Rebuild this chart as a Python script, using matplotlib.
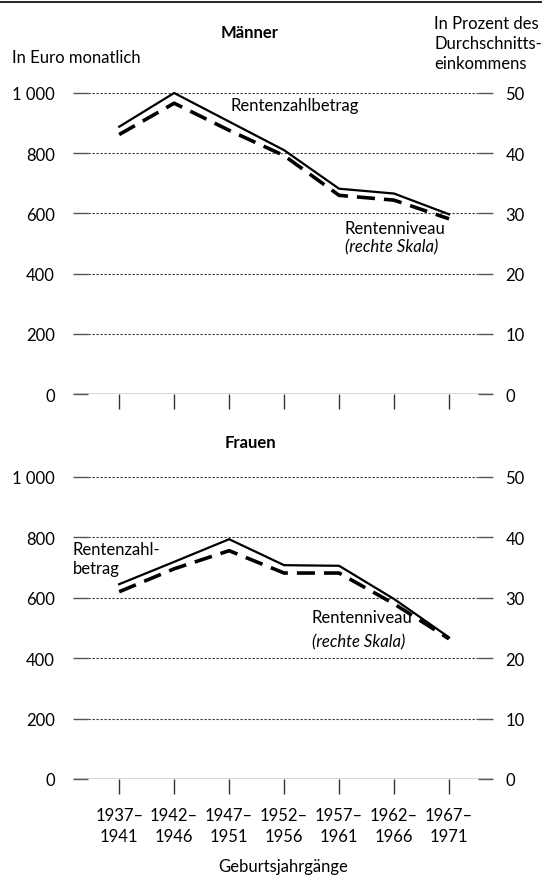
import matplotlib
matplotlib.use("Agg")
import matplotlib.pyplot as plt
from matplotlib.lines import Line2D

plt.rcParams['font.family'] = ['Lato', 'DejaVu Sans']

cohorts = ["1937–\n1941", "1942–\n1946", "1947–\n1951", "1952–\n1956",
           "1957–\n1961", "1962–\n1966", "1967–\n1971"]
euro_ticks = [0, 200, 400, 600, 800, 1000]
euro_labels = ["0", "200", "400", "600", "800", "1 000"]
pct_ticks = [0, 10, 20, 30, 40, 50]

men_zahlbetrag = [888, 1000, 905, 810, 682, 666, 597]
men_niveau = [43.1, 48.3, 43.8, 39.6, 33.0, 32.2, 29.1]
women_zahlbetrag = [645, 719, 794, 708, 706, 596, 469]
women_niveau = [31.0, 34.8, 37.8, 34.1, 34.1, 29.0, 23.2]

W, H = 542, 878
fig = plt.figure(figsize=(W / 100, H / 100), dpi=100)

FS = 12

def make_panel(y_top_px, y_bot_px, zahl, niveau):
    left = 73 / W
    width = (493 - 73) / W
    bottom = 1 - y_bot_px / H
    height = (y_bot_px - y_top_px) / H
    ax = fig.add_axes([left, bottom, width, height])
    ax2 = ax.twinx()
    x = list(range(len(cohorts)))
    for a in (ax, ax2):
        for s in a.spines.values():
            s.set_visible(False)
    ax.set_xlim(-0.84, 6.8)
    ax.set_ylim(0, 1000)
    ax2.set_ylim(0, 50)
    ax.set_yticks(euro_ticks)
    ax.set_yticklabels(euro_labels, fontsize=FS)
    ax2.set_yticks(pct_ticks)
    ax2.set_yticklabels([str(t) for t in pct_ticks], fontsize=FS)
    ax.tick_params(axis='y', direction='in', length=11, width=1.0, color='#555555', pad=13)
    ax2.tick_params(axis='y', direction='in', length=11, width=1.0, color='#555555', pad=9)
    for t in euro_ticks[1:]:
        ax.axhline(t, xmin=0.035, xmax=0.965, color='#333333', lw=0.8,
                   ls=(0, (2, 1.6)), zorder=1)
    ax.axhline(0, color='#333333', lw=1.0, zorder=2)
    ax.set_xticks(x)
    ax.tick_params(axis='x', direction='out', length=11, width=1.0, color='#333333')
    ax.plot(x, zahl, color='black', lw=1.6, zorder=4, clip_on=False,
            solid_joinstyle='miter')
    ax2.plot(x, niveau, color='black', lw=2.6, ls=(0, (5, 2.5)), zorder=4,
             clip_on=False)
    return ax, ax2

ax1, ax1r = make_panel(94, 395, men_zahlbetrag, men_niveau)
ax1.set_xticklabels([])
ax2_, ax2r = make_panel(478, 780, women_zahlbetrag, women_niveau)
ax2_.set_xticklabels(cohorts, fontsize=FS, linespacing=1.4)
ax2_.tick_params(axis='x', pad=9)

# annotations
ax1.text(3.2, 960, "Rentenzahlbetrag", fontsize=FS, ha='center', va='center')
ax1.text(4.1, 553, "Rentenniveau", fontsize=FS, ha='left', va='center')
ax1.text(4.1, 492, "(rechte Skala)", fontsize=FS, ha='left', va='center', style='italic')

ax2_.text(-0.85, 730, "Rentenzahl-\nbetrag", fontsize=FS, ha='left', va='center',
          linespacing=1.3)
ax2_.text(3.5, 536, "Rentenniveau", fontsize=FS, ha='left', va='center')
ax2_.text(3.5, 455, "(rechte Skala)", fontsize=FS, ha='left', va='center', style='italic')

# headers
fig.text(250 / W, 1 - 33 / H, "Männer", fontsize=FS, fontweight='bold', ha='center', va='center')
fig.text(250 / W, 1 - 443 / H, "Frauen", fontsize=FS, fontweight='bold', ha='center', va='center')
fig.text(12 / W, 1 - 58 / H, "In Euro monatlich", fontsize=FS, ha='left', va='center')
fig.text(434 / W, 1 - 44 / H, "In Prozent des\nDurchschnitts-\neinkommens", fontsize=FS,
         ha='left', va='center', linespacing=1.32)
fig.text(283 / W, 1 - 867 / H, "Geburtsjahrgänge", fontsize=FS, ha='center', va='center')

fig.add_artist(Line2D([0, 1], [1 - 3 / H, 1 - 3 / H], color='black', lw=1.2,
                      transform=fig.transFigure))

fig.savefig("out.png", dpi=100, facecolor='white')
